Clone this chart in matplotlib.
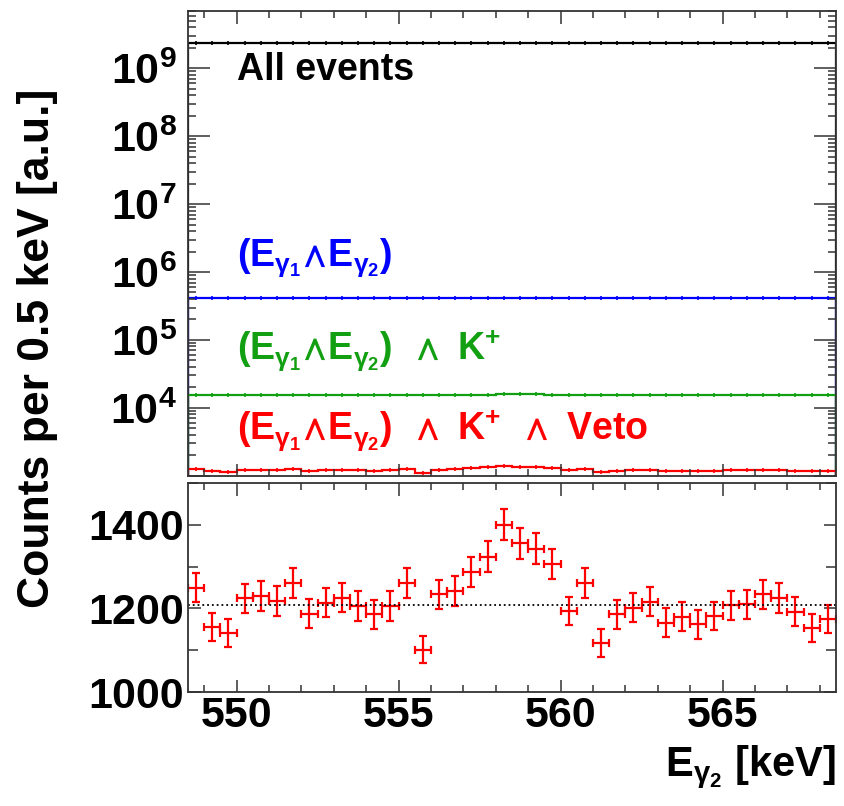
import numpy as np
import matplotlib
matplotlib.use("Agg")
import matplotlib.pyplot as plt
from matplotlib.ticker import LogLocator, FixedLocator, MultipleLocator, NullFormatter, FuncFormatter

plt.rcParams['font.family'] = ['Liberation Sans', 'DejaVu Sans']
plt.rcParams['font.weight'] = 'bold'
plt.rcParams['mathtext.fontset'] = 'custom'
plt.rcParams['mathtext.rm'] = 'Liberation Sans:bold'
plt.rcParams['mathtext.bf'] = 'Liberation Sans:bold'
plt.rcParams['mathtext.it'] = 'Liberation Sans'
plt.rcParams['mathtext.default'] = 'rm'
plt.rcParams['mathtext.fallback'] = 'stixsans'

# bins: 0.5 keV wide, 548.5 .. 568.5
bin_lo = 548.5
bin_w = 0.5
n_bins = 40
edges = bin_lo + bin_w * np.arange(n_bins + 1)
centers = edges[:-1] + bin_w / 2

# all cuts (red) - counts per bin
counts_veto = [1250, 1156, 1142, 1224, 1230, 1218, 1260, 1188, 1214, 1226,
               1206, 1186, 1206, 1260, 1102, 1234, 1242, 1286, 1324, 1400,
               1356, 1343, 1307, 1194, 1260, 1118, 1186, 1202, 1216, 1166,
               1180, 1162, 1182, 1208, 1210, 1234, 1225, 1192, 1154, 1175]

counts_kaon = [15500, 15450, 15480, 15520, 15500, 15470, 15530, 15490, 15510, 15500,
               15480, 15460, 15500, 15540, 15420, 15510, 15530, 15560, 15600, 15800,
               15780, 15760, 15700, 15520, 15540, 15440, 15480, 15500, 15510, 15470,
               15480, 15460, 15490, 15500, 15510, 15530, 15520, 15490, 15470, 15480]

counts_coinc = [418000, 417500, 417800, 418200, 418000, 417600, 418300, 417900, 418100, 418000,
                417800, 417700, 418000, 418400, 417500, 418100, 418200, 418500, 418600, 419000,
                418800, 418700, 418500, 418000, 418200, 417600, 417800, 418000, 418100, 417800,
                417900, 417700, 417900, 418000, 418100, 418200, 418100, 417900, 417700, 417800]

counts_all = [2.33e9, 2.33e9, 2.33e9, 2.33e9, 2.33e9, 2.33e9, 2.33e9, 2.33e9, 2.33e9, 2.33e9,
              2.33e9, 2.33e9, 2.33e9, 2.33e9, 2.33e9, 2.33e9, 2.33e9, 2.33e9, 2.33e9, 2.33e9,
              2.33e9, 2.33e9, 2.33e9, 2.33e9, 2.33e9, 2.33e9, 2.33e9, 2.33e9, 2.33e9, 2.33e9,
              2.33e9, 2.33e9, 2.33e9, 2.33e9, 2.33e9, 2.33e9, 2.34e9, 2.33e9, 2.33e9, 2.33e9]

background_level = 1208

c_black = '#000000'
c_blue = '#0000ff'
c_green = '#129f12'
c_red = '#ff0000'

fig = plt.figure(figsize=(8.44, 8.06), dpi=100)
ax1 = fig.add_axes([0.2227, 0.4098, 0.7678, 0.5766])
ax2 = fig.add_axes([0.2227, 0.1411, 0.7678, 0.2599])

# ---- top panel: log histograms
for vals, col in [(counts_all, c_black), (counts_coinc, c_blue),
                  (counts_kaon, c_green), (counts_veto, c_red)]:
    ax1.stairs(vals, edges, color=col, lw=1.6)
    ax1.plot(centers, vals, ls='none', marker='|', ms=3, mew=1.2, color=col)

ax1.set_yscale('log')
ax1.set_xlim(edges[0], edges[-1])
ax1.set_ylim(1e3, 7e9)
ax1.yaxis.set_major_locator(LogLocator(base=10, numticks=20))
ax1.yaxis.set_minor_locator(LogLocator(base=10, subs=np.arange(2, 10), numticks=20))
ax1.yaxis.set_minor_formatter(NullFormatter())
ax1.yaxis.set_major_formatter(FuncFormatter(
    lambda v, p: r'$10^{%d}$' % round(np.log10(v)) if np.log10(v) >= 3.5 else ''))
ax1.xaxis.set_major_locator(MultipleLocator(5))
ax1.xaxis.set_minor_locator(MultipleLocator(1))
ax1.set_xticklabels([])
ax1.tick_params(axis='y', which='major', length=15.5, labelsize=31, pad=8)
ax1.tick_params(axis='y', which='minor', length=6)
ax1.tick_params(axis='x', which='major', length=9)
ax1.tick_params(axis='x', which='minor', length=5)

g1 = r'E_{\mathit{\gamma}_{1}}'
g2 = r'E_{\mathit{\gamma}_{2}}'
pair = r'(' + g1 + r'\!\wedge\!' + g2 + r')'
lab_kw = dict(transform=ax1.transAxes, fontsize=27, ha='left', va='baseline')
ax1.text(0.0756, 0.852, 'All events', color=c_black, **lab_kw)
ax1.text(0.0756, 0.452, '$' + pair + '$', color=c_blue, **lab_kw)
ax1.text(0.0756, 0.250, '$' + pair + r'\ \,\wedge\ K^{+}$', color=c_green, **lab_kw)
ax1.text(0.0756, 0.078, '$' + pair + r'\ \,\wedge\ K^{+}\ \,\wedge\ Veto$',
         color=c_red, **lab_kw)

# ---- bottom panel: zoomed linear view of the last selection
err_y = np.sqrt(np.array(counts_veto, dtype=float))
ax2.errorbar(centers, counts_veto, yerr=err_y, xerr=bin_w / 2, fmt='none',
             ecolor=c_red, elinewidth=1.6, capsize=3, capthick=1.6)
ax2.axhline(background_level, color='black', ls=':', lw=1.3)
ax2.set_xlim(edges[0], edges[-1])
ax2.set_ylim(1000, 1500)
ax2.yaxis.set_major_locator(FixedLocator([1000, 1200, 1400]))
ax2.yaxis.set_minor_locator(MultipleLocator(100))
ax2.xaxis.set_major_locator(MultipleLocator(5))
ax2.xaxis.set_minor_locator(MultipleLocator(1))
ax2.tick_params(axis='both', which='major', labelsize=31, pad=3)
ax2.tick_params(axis='y', which='major', length=9)
ax2.tick_params(axis='y', which='minor', length=7)
ax2.tick_params(axis='x', which='major', length=9)
ax2.tick_params(axis='x', which='minor', length=5)

for ax in (ax1, ax2):
    ax.tick_params(which='both', direction='in', top=True, right=True,
                   width=1.1, color='#333333')
    for sp in ax.spines.values():
        sp.set_linewidth(1.3)
        sp.set_color('#333333')

fig.text(0.045, 0.568, 'Counts per 0.5 keV [a.u.]', rotation=90,
         ha='center', va='center', fontsize=32)
fig.text(0.99, 0.037, '$' + g2 + r'$ [keV]', ha='right',
         va='baseline', fontsize=30)

fig.savefig('out.png', dpi=100)
